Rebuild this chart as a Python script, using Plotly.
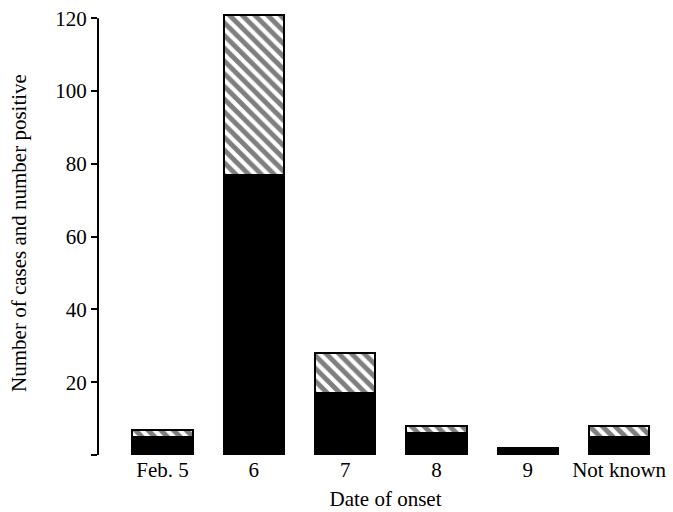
import plotly.graph_objects as go

dates = ["Feb. 5", "6", "7", "8", "9", "Not known"]
total_cases = [7, 121, 28, 8, 2, 8]
positive = [5, 77, 17, 6, 2, 5]
negative = [t - p for t, p in zip(total_cases, positive)]
y_ticks = [0, 20, 40, 60, 80, 100, 120]
y_tick_text = ["", "20", "40", "60", "80", "100", "120"]

font = "Liberation Serif, Times New Roman, serif"
FS = 21

fig = go.Figure()
fig.add_trace(go.Bar(
    x=dates, y=positive, name="Positive",
    marker=dict(color="black", line=dict(color="black", width=2)),
    width=0.66,
))
fig.add_trace(go.Bar(
    x=dates, y=negative, name="Cases",
    marker=dict(color="white", line=dict(color="black", width=2),
                pattern=dict(shape="\\", fgcolor="black", bgcolor="white",
                             size=9, solidity=0.55)),
    width=0.66,
))

# y axis line drawn only from 0 to the top tick (as in the original)
fig.add_shape(type="line", xref="paper", yref="y", x0=0, x1=0,
              y0=y_ticks[0], y1=y_ticks[-1], line=dict(color="black", width=2))

fig.update_layout(
    barmode="stack",
    width=673, height=512,
    margin=dict(l=98, r=0, t=11, b=57),
    plot_bgcolor="white", paper_bgcolor="white",
    showlegend=False,
    font=dict(family=font, size=FS, color="black"),
    xaxis=dict(
        range=[-0.706, 5.59], showline=False, ticks="", showgrid=False,
        zeroline=False, automargin=False,
        title=dict(text="Date of onset", font=dict(size=FS), standoff=10),
        tickfont=dict(size=FS),
    ),
    yaxis=dict(
        range=[0, 122], showline=False,
        ticks="outside", ticklen=6, tickwidth=1.5, tickcolor="black",
        tickvals=y_ticks, ticktext=y_tick_text, showgrid=False, zeroline=False,
        automargin=False, ticklabeloverflow="allow",
        title=dict(text="Number of cases and number positive", font=dict(size=FS), standoff=22),
        tickfont=dict(size=FS),
    ),
)

fig.write_html("out.html", config={"displayModeBar": False},
               post_script="document.body.style.margin='0';document.body.style.overflow='hidden';")
